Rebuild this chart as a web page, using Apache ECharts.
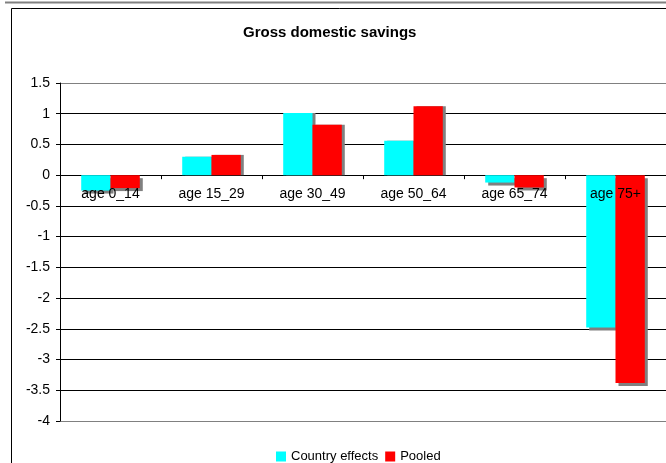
<!DOCTYPE html>
<html>
<head>
<meta charset="utf-8">
<script src="https://cdn.jsdelivr.net/npm/echarts@6/dist/echarts.min.js"></script>
<style>
  html, body { margin: 0; padding: 0; background: #fff; }
  #chart { width: 666px; height: 463px; }
</style>
</head>
<body>
<div id="chart"></div>
<script>
// Age-group categories and the two estimate sets
const categories = ['age 0_14', 'age 15_29', 'age 30_49', 'age 50_64', 'age 65_74', 'age 75+'];
const countryEffects = [-0.25, 0.30, 1.01, 0.56, -0.12, -2.48];
const pooled = [-0.21, 0.33, 0.82, 1.12, -0.20, -3.38];
const seriesNames = ['Country effects', 'Pooled'];
const chartTitle = 'Gross domestic savings';

const FONT = '"Liberation Sans", Arial, sans-serif';

// Gridlines: grey at the plot edges, black inside (12 lines from -4 to 1.5)
const gridColors = ['#808080'].concat(new Array(10).fill('#000000'), ['#808080']);

const chart = echarts.init(document.getElementById('chart'), null, { renderer: 'canvas' });

// Drop shadow falls to the right; it only shows below the bar when the bar hangs under zero
function withShadow(values, color) {
  return values.map(v => ({
    value: v,
    itemStyle: {
      color: color,
      shadowColor: '#808080',
      shadowBlur: 0,
      shadowOffsetX: 3,
      shadowOffsetY: v < 0 ? 3 : 0
    }
  }));
}

chart.setOption({
  animation: false,
  backgroundColor: '#ffffff',
  textStyle: { fontFamily: FONT },
  title: {
    text: chartTitle,
    left: 243,
    top: 25,
    padding: 0,
    textStyle: { fontFamily: FONT, fontSize: 15, fontWeight: 'bold', color: '#000' }
  },
  legend: {
    data: seriesNames,
    left: 276,
    top: 450,
    padding: 0,
    icon: 'rect',
    itemWidth: 10,
    itemHeight: 10,
    itemGap: 7,
    textStyle: { fontFamily: FONT, fontSize: 13, color: '#000' }
  },
  grid: { left: 60, top: 83, width: 609, height: 338 },
  xAxis: {
    type: 'category',
    data: categories,
    position: 'bottom',
    axisLine: { show: true, onZero: true, lineStyle: { color: '#000', width: 1 } },
    axisTick: { show: true, length: 4, lineStyle: { color: '#000' } },
    axisLabel: { show: false },
    splitLine: { show: false }
  },
  yAxis: {
    type: 'value',
    min: -4,
    max: 1.5,
    interval: 0.5,
    axisLine: { show: true, onZero: false, lineStyle: { color: '#000', width: 1 } },
    axisTick: { show: true, length: 4, lineStyle: { color: '#000' } },
    axisLabel: { margin: 10, fontFamily: FONT, fontSize: 14, color: '#000' },
    splitLine: { show: true, lineStyle: { color: gridColors, width: 1 } }
  },
  series: [
    {
      name: seriesNames[0],
      type: 'bar',
      data: withShadow(countryEffects, '#00FFFF'),
      barGap: '0%',
      barCategoryGap: '42%',
      itemStyle: { color: '#00FFFF' }
    },
    {
      name: seriesNames[1],
      type: 'bar',
      data: withShadow(pooled, '#FF0000'),
      barGap: '0%',
      barCategoryGap: '42%',
      itemStyle: { color: '#FF0000' }
    },
    {
      // category names sit just under the zero line, drawn above the bars
      type: 'custom',
      z: 10,
      silent: true,
      data: categories.map((c, i) => i),
      encode: { x: 0 },
      renderItem: function (params, api) {
        const idx = api.value(0);
        const p = api.coord([idx, 0]);
        return {
          type: 'text',
          x: p[0],
          y: p[1] + 12,
          style: {
            text: categories[idx],
            fill: '#000',
            font: '14px ' + FONT,
            align: 'center',
            verticalAlign: 'top'
          }
        };
      }
    }
  ],
  graphic: [
    // outer frame: grey rule along the top
    { type: 'line', shape: { x1: 5, y1: 2.5, x2: 666, y2: 2.5 }, style: { stroke: '#808080', lineWidth: 2 }, silent: true },
    // chart area border (continues past the right and bottom edges)
    { type: 'rect', shape: { x: 11.5, y: 8.5, width: 700, height: 500 }, style: { fill: 'none', stroke: '#000', lineWidth: 1 }, silent: true }
  ]
});
</script>
</body>
</html>
